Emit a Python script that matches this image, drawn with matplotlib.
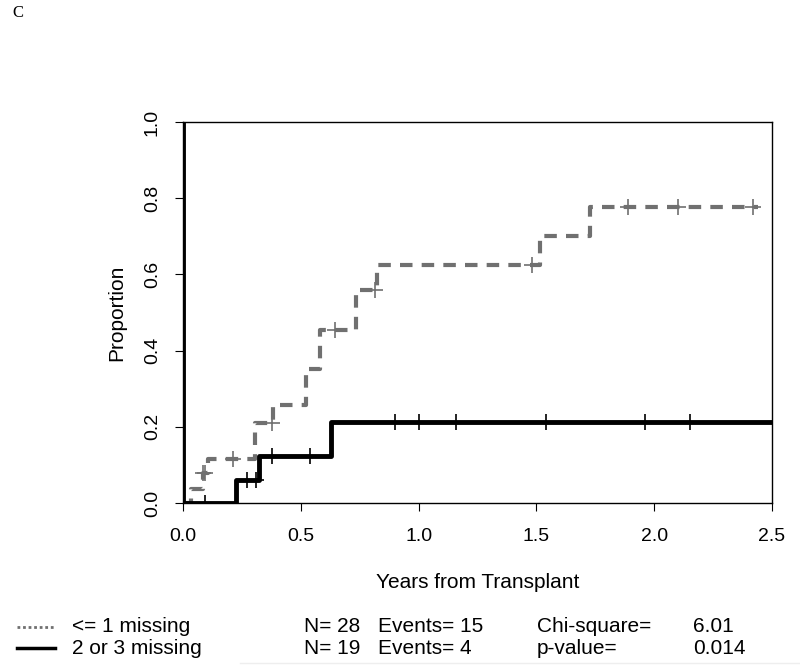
import numpy as np
import matplotlib
matplotlib.use("Agg")
import matplotlib.pyplot as plt

plt.rcParams['font.family'] = ['Liberation Sans', 'DejaVu Sans']

# cumulative incidence, "<= 1 missing" group (step times and values)
grey_t = [0.0, 0.034, 0.085, 0.106, 0.306, 0.381, 0.52, 0.58, 0.734, 0.822, 1.515, 1.727, 2.44]
grey_y = [0.0, 0.036, 0.079, 0.115, 0.209, 0.257, 0.353, 0.454, 0.559, 0.625, 0.700, 0.776, 0.776]
grey_cens = [0.085, 0.093, 0.21, 0.376, 0.645, 0.815, 1.48, 1.89, 2.10, 2.42]

# "2 or 3 missing" group
black_t = [0.0, 0.0, 0.225, 0.323, 0.627, 2.5]
black_y = [1.0, 0.0, 0.060, 0.123, 0.213, 0.213]
black_cens = [0.093, 0.27, 0.31, 0.379, 0.539, 0.90, 1.00, 1.16, 1.54, 1.96, 2.15]

legend_labels = ['<= 1 missing', '2 or 3 missing']
n_vals = ['N= 28', 'N= 19']
events = ['Events= 15', 'Events= 4']
stat_names = ['Chi-square=', 'p-value=']
stat_vals = ['6.01', '0.014']

grey = '#707070'


def step_value(t, times, vals):
    i = np.searchsorted(times, t, side='right') - 1
    return vals[max(i, 0)]


fig = plt.figure(figsize=(8, 6.66), dpi=100)
ax = fig.add_axes([0.229, 0.2447, 0.736, 0.5721])

ax.step(grey_t, grey_y, where='post', color=grey, lw=3, dashes=(3, 2.2), zorder=3)
ax.plot(grey_cens, [step_value(t, grey_t, grey_y) for t in grey_cens], '+',
        color=grey, ms=11, mew=1.2, zorder=4)

ax.step(black_t, black_y, where='post', color='black', lw=3.5, zorder=3)
ax.plot(black_cens, [step_value(t, black_t, black_y) for t in black_cens], '+',
        color='black', ms=11, mew=1.2, zorder=4)

ax.set_xlim(0, 2.5)
ax.set_ylim(0, 1)
ax.set_xticks([0, 0.5, 1.0, 1.5, 2.0, 2.5])
ax.set_yticks([0, 0.2, 0.4, 0.6, 0.8, 1.0])
ax.set_xticklabels(['0.0', '0.5', '1.0', '1.5', '2.0', '2.5'])
ax.set_yticklabels(['0.0', '0.2', '0.4', '0.6', '0.8', '1.0'], rotation=90, va='center')
ax.tick_params(direction='out', length=6, width=0.8, labelsize=14)
ax.tick_params(axis='x', pad=12)
ax.tick_params(axis='y', pad=10)
for s in ax.spines.values():
    s.set_linewidth(1.0)
ax.set_xlabel('Years from Transplant', fontsize=15, labelpad=20)
ax.set_ylabel('Proportion', fontsize=15, labelpad=13)

# panel letter
fig.text(0.015, 0.981, 'C', family=['Liberation Serif', 'DejaVu Serif'], fontsize=12, va='center')

# legend block below the plot
rows_y = [1 - 627 / 666, 1 - 648 / 666]
fig.add_artist(plt.Line2D([0.021, 0.069], [rows_y[0]] * 2, color=grey, lw=2, ls=(0, (1, 1))))
fig.add_artist(plt.Line2D([0.021, 0.069], [rows_y[1]] * 2, color='black', lw=2.5))
for i, y in enumerate(rows_y):
    fig.text(0.09, y, legend_labels[i], fontsize=15, va='center')
    fig.text(0.38, y, n_vals[i], fontsize=15, va='center')
    fig.text(0.4725, y, events[i], fontsize=15, va='center')
    fig.text(0.671, y, stat_names[i], fontsize=15, va='center')
    fig.text(0.866, y, stat_vals[i], fontsize=15, va='center')
fig.add_artist(plt.Line2D([0.30, 1.0], [0.005, 0.005], color='#eeeeee', lw=1))

fig.savefig('out.png', dpi=100)
